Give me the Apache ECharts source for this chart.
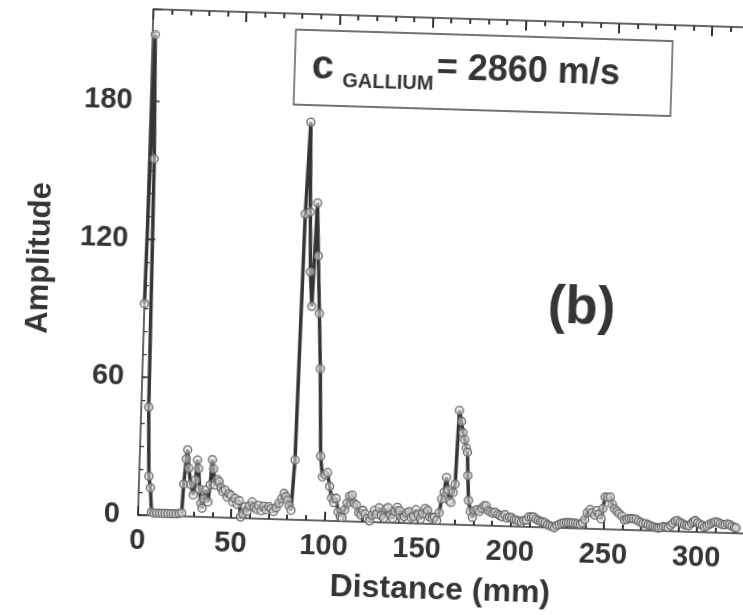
<!DOCTYPE html>
<html>
<head>
<meta charset="utf-8">
<script src="https://cdn.jsdelivr.net/npm/echarts@6/dist/echarts.min.js"></script>
<style>
  html, body { margin: 0; padding: 0; background: #fff; overflow: hidden; }
  #chart {
    position: absolute; left: 0; top: 0; width: 760px; height: 615px;
    transform: rotate(1.75deg); transform-origin: 138px 515px;
  }
</style>
</head>
<body>
<div id="chart"></div>
<script>
// distance in mm, amplitude
const distance = [
  0, 1.4, 2.9, 4.0, 5.2, 6.2, 7.2, 8.5, 10, 11.5, 13, 14.5, 16, 17.5, 19, 20.5, 22, 23.4,
  24, 25, 25.6, 26.5, 27.8, 29.3, 30.3, 31, 31.8, 32.6, 33.5, 34.2, 35, 36, 37.3, 38.2, 39, 39.8,
  40.8, 42, 43, 44, 45, 46.3, 47.5, 48.5, 49.6, 50.7, 51.8, 53, 54, 55, 56.2, 57.3, 58.5, 59.6,
  61, 62.3, 63.5, 64.5, 66, 67.3, 68.6, 70, 71.3, 72.6, 74, 75.4, 76.8, 78, 79, 80, 81, 82,
  83.3, 84.8, 86.3, 87.5, 88.5, 89.8, 91.2, 92.5, 94, 95.4, 97, 98.3, 99.6, 101, 102.3, 103.5,
  104.8, 106, 107.3, 108.5, 109.5, 110.8, 112, 113.2, 114.5, 115.7, 117, 118.3, 119.5, 120.6,
  121.8, 123, 124.2, 125.5, 126.8, 128, 129.3, 130.5, 131.8, 133, 134, 135.3, 136.6, 137.8, 139,
  140.3, 141.5, 142.8, 144, 145.3, 146.5, 147.8, 149, 150.2, 151.5, 152.7, 154, 155.3, 156.5,
  157.8, 159, 160.3, 161.5, 162.6, 163.8, 164.9, 165.8, 166.7, 167.6, 168.6, 169.6, 170.7, 172,
  173, 174, 175, 175.7, 176.3, 177, 178.2, 179.4, 180.5, 181.8, 183, 184.3, 185.5, 186.6, 187.8,
  189, 190.3, 191.5, 193, 194.2, 195.5, 196.8, 198, 199.2, 200.5, 201.8, 203, 204.3, 205.7, 207,
  208.3, 209.6, 211, 212.2, 213.5, 214.8, 216, 217.2, 218.5, 219.7, 221, 222.3, 223.5, 224.8,
  226, 227.3, 228.5, 229.8, 231, 232.3, 233.5, 234.8, 236, 237.3, 238.5, 239.7, 241, 242.4,
  243.6, 245, 246, 247.3, 248.5, 249.3, 250.2, 251.5, 253, 254.2, 255.5, 256.8, 258, 259.5, 261,
  262.3, 263.5, 264.8, 266, 267.3, 268.5, 269.8, 271, 272.5, 273.8, 275, 276.3, 277.5, 278.6,
  279.6, 280.8, 282, 283.3, 284.5, 285.8, 287, 288.3, 289.5, 290.8, 292, 293.3, 294.5, 295.7,
  297, 298, 299, 300.3, 301.5, 302.8, 304, 305.3, 306.5, 307.8, 309, 310, 311.3, 312.5, 313.8,
  315, 316.3, 317.5, 318.7, 320, 321
];
const amplitude = [
  92, 209, 155, 47, 17, 12, 1.5, 1, 1, 1, 1, 1, 1, 1, 1, 1, 1.2, 1.5,
  14, 25, 29, 21, 14, 9.5, 16, 24.7, 21, 12, 6, 3.8, 8, 11.8, 6.6, 14, 25, 21,
  14, 16.5, 15.6, 13, 11.3, 12, 9, 10.5, 9.7, 7, 8.5, 6, 7.6, 0.5, 2, 5, 3, 5.5,
  7.2, 5, 4, 5.8, 3.5, 5.5, 4, 5.4, 4.5, 3.3, 5, 7, 9, 11.3, 10, 8.4, 6, 4.1,
  26, 133, 173, 134, 108, 93, 138, 115, 90, 66, 28, 19, 20, 21, 15, 10,
  8, 9.9, 4, 2, 1.5, 5, 8, 11, 11.5, 8, 7.2, 4, 3, 5,
  3.5, 1.5, 0.5, 3, 5.2, 3.5, 6.3, 3, 2, 6, 6.6, 3.5, 2, 5, 6.8,
  5.4, 2, 2.8, 4.5, 5, 2.5, 3, 6, 4, 2, 4.5, 6.7, 5.8, 3,
  2.5, 3, 1.6, 5, 11, 14, 20.4, 15, 10.3, 9.6, 14, 17.6, 49.7, 45,
  40, 37.1, 33.5, 31.6, 21.5, 10.7, 6, 3.4, 6.4, 6.8, 6, 7.5, 8.6, 8.6, 6.5,
  6, 5.5, 6, 5.1, 4.5, 4, 5, 3.5, 4, 3.8, 3, 2.8, 2.5, 2, 2.8,
  3, 4.4, 4.4, 4.4, 3.5, 3, 2.5, 2.4, 2, 1.2, 0.8, 0.5, 0, 1,
  1.5, 2, 2.2, 2.4, 2.4, 2.4, 2.3, 2.2, 2, 1.8, 2.5, 4, 7, 8.4,
  7, 6, 8, 6.5, 4.5, 9, 14, 14, 14.1, 11, 9, 8, 7, 6, 4.3,
  4.6, 5, 5, 4.8, 4.7, 4, 3.5, 3, 3, 2.5, 2.2, 1.8, 1.5, 1.3,
  1.3, 1.5, 2, 1.8, 1.5, 2.5, 3.5, 4.5, 4.7, 4, 3.5, 3, 2.8, 2.7,
  3.8, 4.5, 5, 4, 3.5, 3, 2.3, 2.8, 3.5, 4, 4.5, 4.7, 4.5, 4, 3.5,
  3.6, 4, 3.6, 3, 2.5, 2.3
];
const xLabels = [0, 50, 100, 150, 200, 250, 300];
const yLabels = [0, 60, 120, 180];

const ink = '#333634';
const font = 'Liberation Sans';

const chart = echarts.init(document.getElementById('chart'));

const baseX = {
  type: 'value', min: 0, max: 330,
  axisLine: { show: false, onZero: false },
  splitLine: { show: false },
  axisLabel: { show: false }
};
const baseY = {
  type: 'value', min: 0, max: 220,
  axisLine: { show: false, onZero: false },
  splitLine: { show: false },
  axisLabel: { show: false }
};

const option = {
  animation: false,
  grid: { left: 138, top: 9, right: 7, bottom: 100, containLabel: false },
  xAxis: [
    Object.assign({}, baseX, {
      position: 'bottom', interval: 50,
      axisLine: { show: true, onZero: false, lineStyle: { color: ink, width: 1.5 } },
      axisTick: { inside: true, length: 9, lineStyle: { color: ink, width: 2 } },
      axisLabel: {
        show: true, margin: 11, color: ink, fontSize: 29, fontWeight: 'bold', fontFamily: font,
        formatter: v => (xLabels.indexOf(v) >= 0 ? String(v) : '')
      }
    }),
    Object.assign({}, baseX, {
      position: 'bottom', interval: 10,
      axisTick: { inside: true, length: 5, lineStyle: { color: ink, width: 2 } }
    }),
    Object.assign({}, baseX, {
      position: 'top', interval: 50,
      axisLine: { show: true, onZero: false, lineStyle: { color: ink, width: 1.5 } },
      axisTick: { inside: true, length: 10, lineStyle: { color: ink, width: 2 } }
    }),
    Object.assign({}, baseX, {
      position: 'top', interval: 10,
      axisTick: { inside: true, length: 5, lineStyle: { color: ink, width: 2 } }
    })
  ],
  yAxis: [
    Object.assign({}, baseY, {
      position: 'left', interval: 60,
      axisLine: { show: true, onZero: false, lineStyle: { color: ink, width: 1.5 } },
      axisTick: { inside: true, length: 9, lineStyle: { color: ink, width: 1.5 } },
      axisLabel: {
        show: true, margin: 18, color: ink, fontSize: 29, fontWeight: 'bold', fontFamily: font,
        formatter: v => (yLabels.indexOf(v) >= 0 ? String(v) : '')
      }
    }),
    Object.assign({}, baseY, {
      position: 'left', interval: 10,
      axisTick: { inside: true, length: 4, lineStyle: { color: ink, width: 1.2 } }
    })
  ],
  graphic: [
    {
      type: 'rect', shape: { x: 281, y: 25, width: 377, height: 75 },
      style: { fill: '#fff', stroke: '#444', lineWidth: 1.3 }, z: 10
    },
    {
      type: 'text', x: 298, y: 62, z: 11,
      style: { text: 'c', fill: ink, font: 'bold 40px "Liberation Sans"', verticalAlign: 'middle' }
    },
    {
      type: 'text', x: 329, y: 75, z: 11,
      style: { text: 'GALLIUM', fill: ink, font: 'bold 20px "Liberation Sans"', verticalAlign: 'middle' }
    },
    {
      type: 'text', x: 423, y: 60, z: 11,
      style: { text: '= 2860 m/s', fill: ink, font: 'bold 36px "Liberation Sans"', verticalAlign: 'middle' }
    },
    {
      type: 'text', x: 575, y: 295, z: 11,
      style: { text: '(b)', fill: ink, font: 'bold 53px "Liberation Sans"', align: 'center', verticalAlign: 'middle' }
    },
    {
      type: 'text', x: 32, y: 261, rotation: Math.PI / 2, z: 11,
      style: { text: 'Amplitude', fill: ink, font: 'bold 31px "Liberation Sans"', align: 'center', verticalAlign: 'middle' }
    },
    {
      type: 'text', x: 442, y: 581, z: 11,
      style: { text: 'Distance (mm)', fill: ink, font: 'bold 32px "Liberation Sans"', align: 'center', verticalAlign: 'middle' }
    }
  ],
  series: [
    {
      type: 'line',
      xAxisIndex: 0, yAxisIndex: 0,
      data: distance.map((d, i) => [d, amplitude[i]]),
      showAllSymbol: true,
      symbol: 'circle',
      symbolSize: 8,
      lineStyle: { color: ink, width: 3.5 },
      itemStyle: { color: 'rgba(225,225,225,0.55)', borderColor: '#676b69', borderWidth: 1.3 },
      z: 5
    }
  ]
};

chart.setOption(option);
</script>
</body>
</html>
